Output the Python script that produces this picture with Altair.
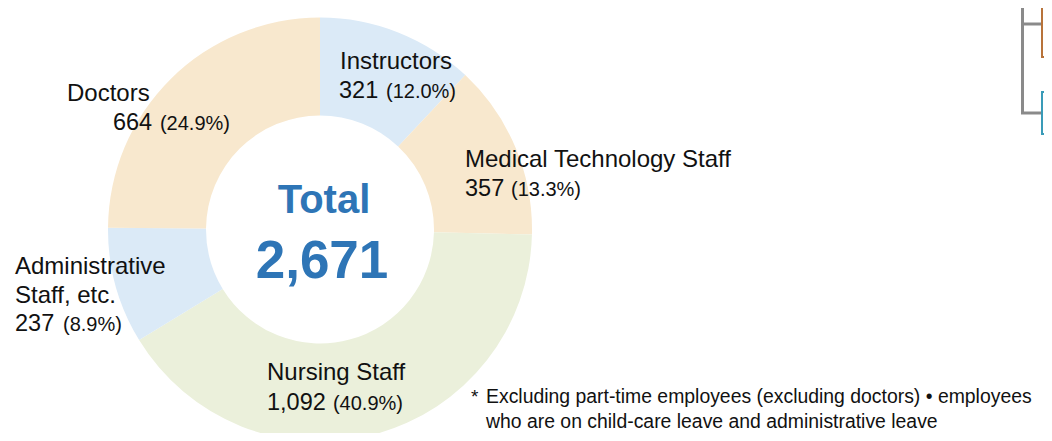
import altair as alt
import pandas as pd

# ---------------- data ----------------
categories = ["Instructors", "Medical Technology Staff", "Nursing Staff",
              "Administrative Staff, etc.", "Doctors"]
name_lines = ["Instructors", "Medical Technology Staff", "Nursing Staff",
              "Administrative\nStaff, etc.", "Doctors"]
counts = [321, 357, 1092, 237, 664]
shares = [12.0, 13.3, 40.9, 8.9, 24.9]
slice_order = [0, 1, 2, 3, 4]
slice_colors = ["#DBEAF7", "#F8E8CE", "#EBF0DB", "#DBEAF7", "#F8E8CE"]

footnote_lines = ["Excluding part-time employees (excluding doctors) \u2022 employees",
                  "who are on child-care leave and administrative leave"]

total = sum(counts)

df = pd.DataFrame({
    "category": categories,
    "name": name_lines,
    "count": counts,
    "share": shares,
    "order": slice_order,
    "color": slice_colors,
})

# ---------------- layout / style ----------------
FONT = "Liberation Sans"
CX, CY = 312, 221.5
R_OUT, R_IN, R_LABEL = 212, 114, 163
TXT = "#111111"
BLUE = "#2E75B6"

# per-label offsets (dx, dy) from the slice mid-point anchor
offsets = {
    "Instructors": {"name": (-40.1, -9.0), "count": (-41.1, 20.0), "pct": (5.9, 20.0)},
    "Medical Technology Staff": {"name": (-5.4, 0.4), "count": (-5.4, 29.4), "pct": (40.6, 29.4)},
    "Nursing Staff": {"name": (-95.3, -6.9), "count": (-95.3, 23.1), "pct": (-29.3, 23.1)},
    "Administrative Staff, etc.": {"name": (-147.9, 1.0), "count": (-147.9, 58.0), "pct": (-99.9, 58.0)},
    "Doctors": {"name": (-138.3, -12.7), "count": (-92.3, 16.3), "pct": (-45.3, 16.3)},
}

theta_scale = alt.Scale(domain=[0, total])

base = (
    alt.Chart(df)
    .transform_window(cum_end="sum(count)", sort=[alt.SortField("order")], frame=[None, 0])
    .transform_calculate(
        cum_start="datum.cum_end - datum.count",
        mid="datum.cum_end - datum.count / 2",
        pct_label="'(' + format(datum.share, '.1f') + '%)'",
    )
)

arcs = base.mark_arc(outerRadius=R_OUT, innerRadius=R_IN).encode(
    theta=alt.Theta("cum_start:Q", scale=theta_scale, stack=False),
    theta2="cum_end:Q",
    color=alt.Color("color:N", scale=None),
    x=alt.value(CX),
    y=alt.value(CY),
)

layers = [arcs]
for cat in categories:
    sub = base.transform_filter(alt.datum.category == cat)
    o = offsets[cat]
    layers.append(
        sub.mark_text(radius=R_LABEL, align="left", baseline="alphabetic", font=FONT,
                      fontSize=24, color=TXT, lineBreak="\n", lineHeight=29,
                      dx=o["name"][0], dy=o["name"][1]).encode(
            theta=alt.Theta("mid:Q", scale=theta_scale, stack=False),
            text="name:N", x=alt.value(CX), y=alt.value(CY))
    )
    layers.append(
        sub.mark_text(radius=R_LABEL, align="left", baseline="alphabetic", font=FONT,
                      fontSize=23.5, color=TXT,
                      dx=o["count"][0], dy=o["count"][1]).encode(
            theta=alt.Theta("mid:Q", scale=theta_scale, stack=False),
            text=alt.Text("count:Q", format=","), x=alt.value(CX), y=alt.value(CY))
    )
    layers.append(
        sub.mark_text(radius=R_LABEL, align="left", baseline="alphabetic", font=FONT,
                      fontSize=20, color=TXT,
                      dx=o["pct"][0], dy=o["pct"][1]).encode(
            theta=alt.Theta("mid:Q", scale=theta_scale, stack=False),
            text="pct_label:N", x=alt.value(CX), y=alt.value(CY))
    )

# centre total
tot = alt.Chart(df).transform_aggregate(total="sum(count)")
layers.append(
    tot.mark_text(align="center", baseline="alphabetic", font=FONT, fontSize=40,
                  fontWeight="bold", color=BLUE, dx=4, dy=-16.5).encode(
        text=alt.value("Total"), x=alt.value(CX), y=alt.value(CY))
)
layers.append(
    tot.mark_text(align="center", baseline="alphabetic", font=FONT, fontSize=53,
                  fontWeight="bold", color=BLUE, dx=2, dy=48.5).encode(
        text=alt.Text("total:Q", format=","), x=alt.value(CX), y=alt.value(CY))
)

# footnote
one = alt.Chart(pd.DataFrame({"k": [0]}))
layers.append(
    one.mark_text(align="left", baseline="alphabetic", font=FONT, fontSize=19, color=TXT).encode(
        text=alt.value("*"), x=alt.value(463), y=alt.value(395))
)
layers.append(
    one.mark_text(align="left", baseline="alphabetic", font=FONT, fontSize=19.4, color=TXT,
                  lineHeight=25).encode(
        text=alt.value(footnote_lines), x=alt.value(478), y=alt.value(395))
)

# fragment of an organisation chart at the top-right edge
GRAY = "#8A8A8A"
layers.append(one.mark_rule(color=GRAY, strokeWidth=3).encode(
    x=alt.value(1014.5), y=alt.value(-10), y2=alt.value(105)))
layers.append(one.mark_rule(color=GRAY, strokeWidth=3).encode(
    x=alt.value(1013), x2=alt.value(1034), y=alt.value(16)))
layers.append(one.mark_rule(color=GRAY, strokeWidth=3).encode(
    x=alt.value(1013), x2=alt.value(1034), y=alt.value(105)))
layers.append(one.mark_rect(fill="white", stroke="#B8733A", strokeWidth=2).encode(
    x=alt.value(1034), x2=alt.value(1060), y=alt.value(-10), y2=alt.value(49)))
layers.append(one.mark_rect(fill="white", stroke="#3A9BB8", strokeWidth=2).encode(
    x=alt.value(1034), x2=alt.value(1060), y=alt.value(84), y2=alt.value(126)))

chart = alt.layer(*layers).properties(
    width=1036, height=425, padding=0,
    autosize=alt.AutoSizeParams(type="none"),
).configure_view(stroke=None)

chart.save("out.html", embed_options={"renderer": "svg", "actions": False})
